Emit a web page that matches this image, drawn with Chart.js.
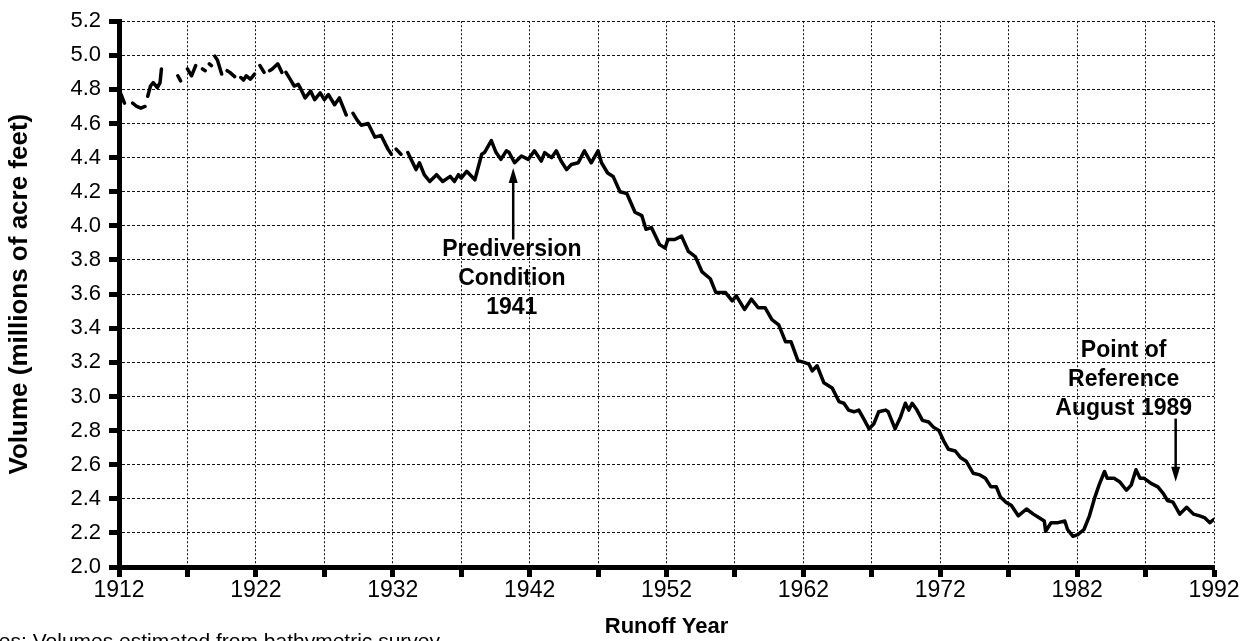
<!DOCTYPE html>
<html>
<head>
<meta charset="utf-8">
<title>Lake volume by runoff year</title>
<script src="https://cdn.jsdelivr.net/npm/chart.js@4.4.1/dist/chart.umd.min.js"></script>
<style>
  html, body { margin: 0; padding: 0; background: #fff; }
</style>
</head>
<body>
<canvas id="volumeChart" width="1254" height="641"></canvas>
<script>
// runoff year (x) and volume in millions of acre feet (y)
// null = the printed line is broken there
const years = [
  1912.0, 1912.2, 1912.4, 1912.6, 1913.0, 1913.3, 1913.6, 1913.9, 1914.0,
  1914.1, 1914.3, 1914.5, 1914.8, 1915.0, 1915.1, 1915.3,
  1916.3, 1916.5, 1916.7, 1917.0, 1917.3, 1917.6, 1917.8,
  1918.1, 1918.3, 1918.45, 1918.6, 1918.75, 1918.85,
  1919.0, 1919.2, 1919.5, 1919.7, 1919.9, 1920.1, 1920.45, 1920.7,
  1920.9, 1921.1, 1921.3, 1921.6, 1921.9, 1922.1, 1922.3, 1922.6, 1922.8,
  1923.0, 1923.2, 1923.6, 1923.9, 1924.05,
  1924.2, 1924.5, 1924.8, 1925.1, 1925.3, 1925.6, 1926.0, 1926.3, 1926.7,
  1927.0, 1927.3, 1927.75, 1928.1, 1928.6, 1928.8,
  1929.1, 1929.4, 1929.7, 1930.2, 1930.7, 1931.15, 1931.65, 1931.9, 1932.05,
  1932.25, 1932.6, 1932.85,
  1933.1, 1933.7, 1933.95, 1934.3, 1934.7, 1935.2, 1935.65, 1936.2, 1936.5,
  1936.8, 1937.0, 1937.4, 1938.0, 1938.5, 1938.7, 1939.2, 1939.55, 1939.9,
  1940.3, 1940.5, 1940.9, 1941.4, 1941.9, 1942.35, 1942.85, 1943.1, 1943.6,
  1943.95, 1944.3, 1944.7, 1945.05, 1945.55, 1946.0, 1946.5, 1947.0, 1947.25,
  1947.7, 1948.1, 1948.6, 1949.1, 1949.7, 1950.2, 1950.5, 1950.9, 1951.5,
  1951.9, 1952.1, 1952.6, 1953.1, 1953.6, 1954.1, 1954.6, 1955.2, 1955.6,
  1956.3, 1956.8, 1957.1, 1957.7, 1958.2, 1958.7, 1959.2, 1959.7, 1960.2,
  1960.7, 1961.1, 1961.6, 1962.05, 1962.4, 1962.65, 1963.0, 1963.5, 1964.1,
  1964.6, 1964.96, 1965.3, 1965.7, 1966.05, 1966.4, 1966.8, 1967.15, 1967.5,
  1968.0, 1968.2, 1968.7, 1969.1, 1969.45, 1969.7, 1969.95, 1970.3, 1970.7,
  1971.15, 1971.5, 1971.9, 1972.25, 1972.6, 1973.1, 1973.5, 1973.9, 1974.4,
  1974.9, 1975.3, 1975.7, 1976.1, 1976.4, 1976.8, 1977.2, 1977.7, 1978.3,
  1978.8, 1979.2, 1979.6, 1979.7, 1980.1, 1980.6, 1981.1, 1981.3, 1981.7,
  1982.05, 1982.5, 1982.9, 1983.3, 1983.6, 1984.0, 1984.2, 1984.7, 1985.1,
  1985.6, 1985.95, 1986.3, 1986.6, 1986.9, 1987.4, 1987.9, 1988.3, 1988.6,
  1989.0, 1989.5, 1990.0, 1990.5, 1990.95, 1991.3, 1991.7, 1992.0
];
const volumes = [
  4.80, 4.76, 4.72, null, 4.72, 4.70, 4.69, 4.70, null,
  4.76, 4.82, 4.84, 4.81, 4.84, 4.92, null,
  4.88, 4.85, null, 4.92, 4.88, 4.94, null,
  4.92, 4.91, null, 4.95, 4.94, null,
  4.995, 4.97, 4.89, null, 4.91, 4.90, 4.875, null,
  4.87, 4.855, 4.88, 4.86, 4.89, null, 4.94, 4.90, null,
  4.91, 4.92, 4.95, 4.90, null,
  4.90, 4.86, 4.82, 4.83, 4.80, 4.75, 4.79, 4.74, 4.78,
  4.74, 4.77, 4.71, 4.75, 4.65, null,
  4.66, 4.62, 4.59, 4.60, 4.52, 4.53, 4.45, 4.42, null,
  4.45, 4.42, null,
  4.43, 4.33, 4.37, 4.30, 4.26, 4.30, 4.26, 4.29, 4.26,
  4.30, 4.28, 4.32, 4.27, 4.42, 4.43, 4.50, 4.43, 4.39,
  4.44, 4.43, 4.37, 4.41, 4.39, 4.44, 4.38, 4.43, 4.40,
  4.44, 4.38, 4.33, 4.36, 4.37, 4.44, 4.37, 4.44, 4.37,
  4.31, 4.29, 4.20, 4.19, 4.08, 4.06, 3.98, 3.99, 3.89,
  3.87, 3.92, 3.92, 3.94, 3.85, 3.82, 3.73, 3.69, 3.61,
  3.61, 3.56, 3.59, 3.51, 3.57, 3.52, 3.52, 3.45, 3.42,
  3.32, 3.32, 3.21, 3.20, 3.19, 3.15, 3.18, 3.08, 3.05,
  2.97, 2.96, 2.92, 2.91, 2.92, 2.87, 2.81, 2.84, 2.91,
  2.92, 2.91, 2.81, 2.88, 2.96, 2.92, 2.96, 2.92, 2.86,
  2.85, 2.82, 2.80, 2.74, 2.69, 2.68, 2.64, 2.62, 2.55,
  2.54, 2.52, 2.47, 2.47, 2.41, 2.38, 2.36, 2.30, 2.34,
  2.31, 2.29, 2.27, 2.21, 2.26, 2.26, 2.27, 2.22, 2.18,
  2.19, 2.22, 2.30, 2.41, 2.48, 2.56, 2.52, 2.52, 2.50,
  2.45, 2.48, 2.57, 2.52, 2.52, 2.49, 2.47, 2.43, 2.39,
  2.38, 2.31, 2.35, 2.31, 2.30, 2.29, 2.26, 2.28
];

// axis ticks
const xTickYears = [1912, 1917, 1922, 1927, 1932, 1937, 1942, 1947, 1952, 1957,
  1962, 1967, 1972, 1977, 1982, 1987, 1992];
const xLabelYears = [1912, 1922, 1932, 1942, 1952, 1962, 1972, 1982, 1992];
const yTickValues = [2.0, 2.2, 2.4, 2.6, 2.8, 3.0, 3.2, 3.4, 3.6, 3.8, 4.0, 4.2,
  4.4, 4.6, 4.8, 5.0, 5.2];

// callouts: [year, volume] anchors for text and arrows
const prediversionText = ['Prediversion', 'Condition', '1941'];
const prediversionTextAt = [1940.7, 3.86];
const prediversionArrow = [1940.8, 3.92, 4.34];   // year, tail, tip
const referenceText = ['Point of', 'Reference', 'August 1989'];
const referenceTextAt = [1985.4, 3.27];
const referenceArrow = [1989.2, 2.87, 2.50];

const FONT = "'Liberation Sans', Arial, Helvetica, sans-serif";

const points = years.map((yr, i) => ({ x: yr, y: volumes[i] }));

const drawArrow = (ctx, x, yTail, yTip) => {
    const dir = yTip < yTail ? -1 : 1;
    ctx.lineWidth = 2.5;
    ctx.beginPath();
    ctx.moveTo(x, yTail);
    ctx.lineTo(x, yTip - dir * 10);
    ctx.stroke();
    ctx.beginPath();
    ctx.moveTo(x, yTip);
    ctx.lineTo(x - 4.5, yTip - dir * 15);
    ctx.lineTo(x + 4.5, yTip - dir * 15);
    ctx.closePath();
    ctx.fill();
};

const calloutPlugin = {
    id: 'callouts',
    afterDatasetsDraw(chart) {
        const { ctx } = chart;
        const x = chart.scales.x;
        const y = chart.scales.y;
        ctx.save();
        ctx.fillStyle = '#000';
        ctx.strokeStyle = '#000';
        ctx.textAlign = 'center';
        ctx.textBaseline = 'middle';
        ctx.font = `bold 23px ${FONT}`;

        const lineGap = 29;
        let px = x.getPixelForValue(prediversionTextAt[0]);
        let py = y.getPixelForValue(prediversionTextAt[1]);
        prediversionText.forEach((t, i) => ctx.fillText(t, px, py + i * lineGap));
        drawArrow(ctx, x.getPixelForValue(prediversionArrow[0]),
            y.getPixelForValue(prediversionArrow[1]), y.getPixelForValue(prediversionArrow[2]));

        px = x.getPixelForValue(referenceTextAt[0]);
        py = y.getPixelForValue(referenceTextAt[1]);
        referenceText.forEach((t, i) => ctx.fillText(t, px, py + i * lineGap));
        drawArrow(ctx, x.getPixelForValue(referenceArrow[0]),
            y.getPixelForValue(referenceArrow[1]), y.getPixelForValue(referenceArrow[2]));

        // footnote, cut off at the left and bottom edge like the scan
        ctx.font = `21px ${FONT}`;
        ctx.textAlign = 'right';
        ctx.textBaseline = 'alphabetic';
        ctx.fillText('Notes: Volumes estimated from bathymetric survey', 440, 648);
        ctx.restore();
    }
};

const ctx = document.getElementById('volumeChart');

new Chart(ctx, {
    type: 'line',
    data: {
        datasets: [{
            data: points,
            borderColor: '#000',
            borderWidth: 3.5,
            pointRadius: 0,
            tension: 0,
            spanGaps: false,
            borderJoinStyle: 'round',
            borderCapStyle: 'round'
        }]
    },
    options: {
        responsive: false,
        animation: false,
        layout: { padding: { top: 17, right: 40, bottom: 0, left: 0 } },
        plugins: {
            legend: { display: false },
            tooltip: { enabled: false }
        },
        scales: {
            x: {
                type: 'linear',
                min: 1912,
                max: 1992,
                afterBuildTicks: (s) => { s.ticks = xTickYears.map(v => ({ value: v })); },
                afterFit: (s) => { s.height = 74; },
                ticks: {
                    autoSkip: false,
                    maxRotation: 0,
                    padding: 0,
                    color: '#000',
                    font: { family: FONT, size: 23 },
                    callback: (v) => xLabelYears.includes(v) ? String(v) : ''
                },
                grid: { color: '#111', lineWidth: 1, tickLength: 10, tickWidth: 5, tickColor: '#000' },
                border: { color: '#000', width: 5, dash: [2, 2] },
                title: {
                    display: true,
                    text: 'Runoff Year',
                    color: '#000',
                    font: { family: FONT, size: 22, weight: 'bold' },
                    padding: { top: 0, bottom: 1 }
                }
            },
            y: {
                min: 2.0,
                max: 5.2,
                afterBuildTicks: (s) => { s.ticks = yTickValues.map(v => ({ value: v })); },
                afterFit: (s) => { s.width = 119; },
                ticks: {
                    padding: 8,
                    color: '#000',
                    font: { family: FONT, size: 22 },
                    callback: (v) => v.toFixed(1)
                },
                grid: { color: '#111', lineWidth: 1, tickLength: 10, tickWidth: 5, tickColor: '#000' },
                border: { color: '#000', width: 5, dash: [3, 2] },
                title: {
                    display: true,
                    text: 'Volume (millions of acre feet)',
                    color: '#000',
                    font: { family: FONT, size: 26, weight: 'bold' },
                    padding: { top: 4, bottom: 0 }
                }
            }
        }
    },
    plugins: [calloutPlugin]
});
</script>
</body>
</html>
